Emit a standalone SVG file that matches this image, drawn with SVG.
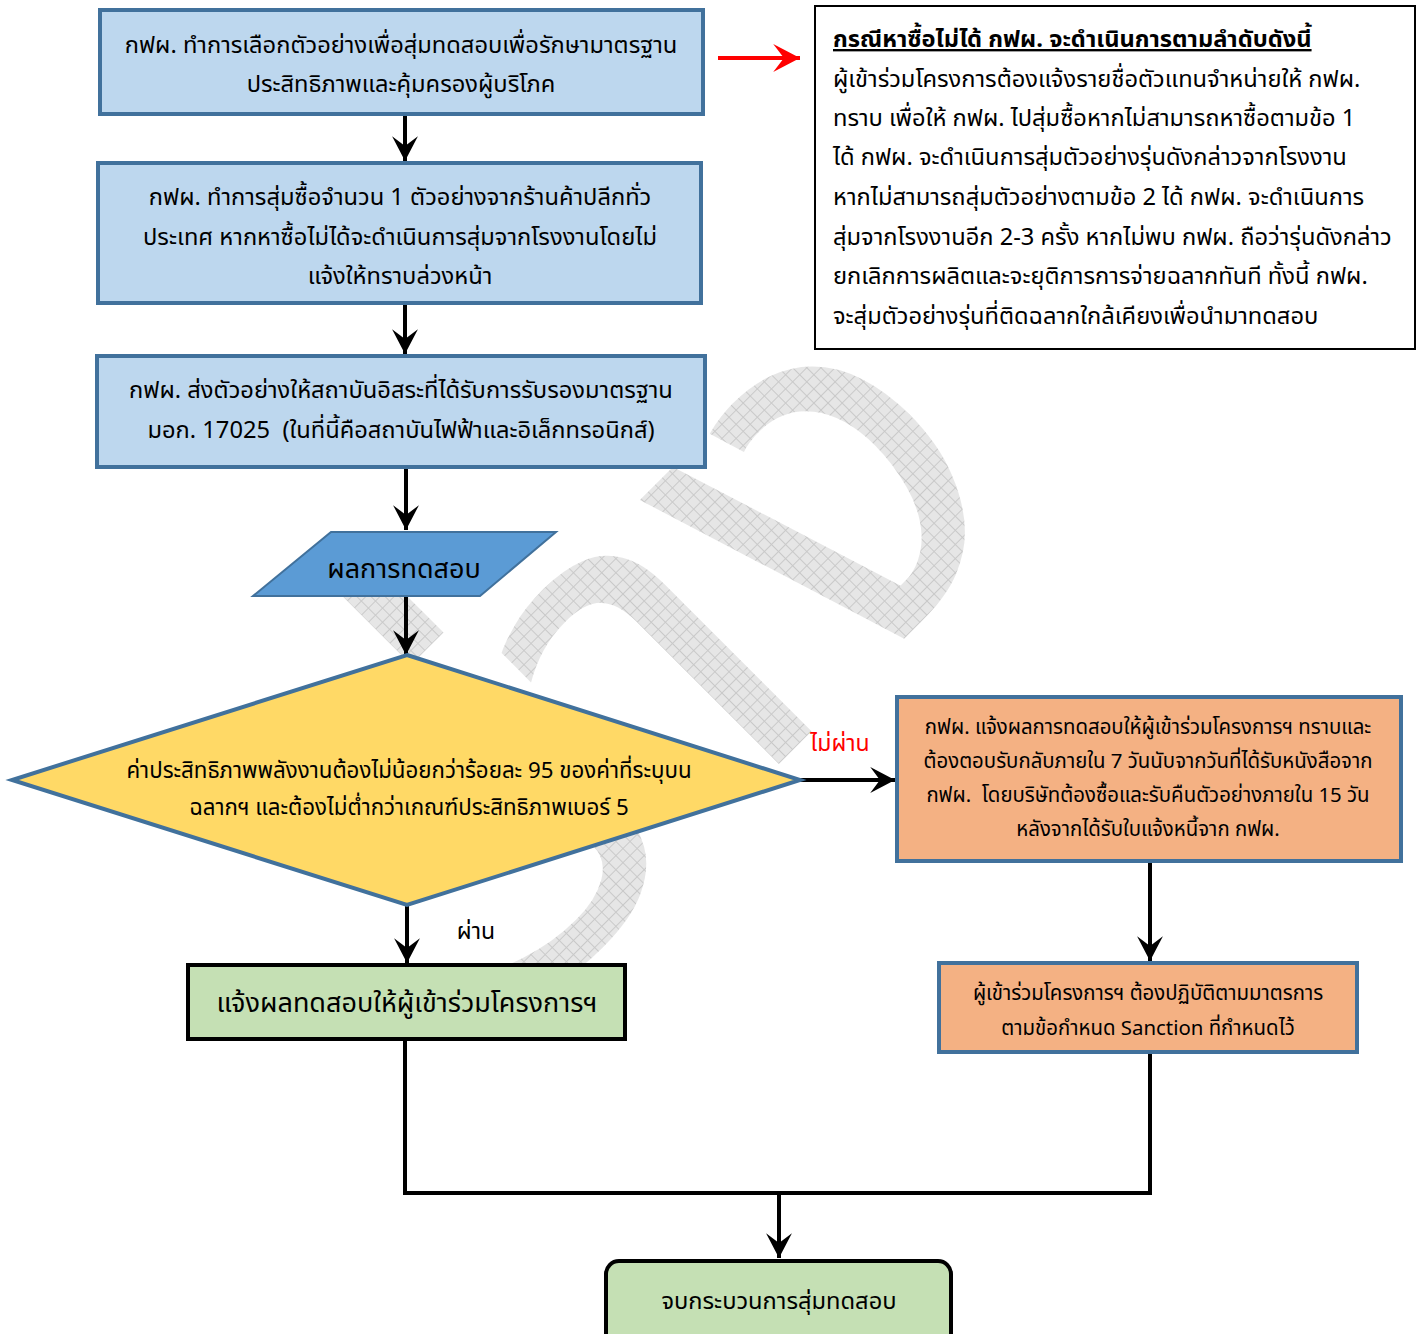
<svg xmlns="http://www.w3.org/2000/svg" width="1418" height="1334" viewBox="0 0 1418 1334">
<defs>
<style>
text{font-family:"Noto Sans Thai","Leelawadee UI",Tahoma,"DejaVu Sans","Noto Sans",sans-serif;fill:#000;white-space:pre}
.c{text-anchor:middle}
.t22{font-size:23.7px}
.td{font-size:22.3px}
.t19{font-size:20.4px}
.t26{font-size:27px}
.blue{fill:#BDD7EE;stroke:#41719C;stroke-width:4}
.orange{fill:#F4B183;stroke:#41719C;stroke-width:4}
.green{fill:#C5E0B4;stroke:#000;stroke-width:4}
.con{fill:none;stroke:#000;stroke-width:4}
</style>
<pattern id="hatch" width="10" height="10" patternUnits="userSpaceOnUse">
<rect width="10" height="10" fill="#E4E4E4"/>
<path d="M0,0.5H10M0.5,0V10" stroke="#C4C4C4" stroke-width="1"/>
</pattern>
<marker id="ah" markerUnits="userSpaceOnUse" markerWidth="28" markerHeight="28" viewBox="-24 -13 26 26" refX="0" refY="0" orient="auto">
<path d="M0,0 L-23,-12 L-14,0 L-23,12 Z" fill="#000"/>
</marker>
<marker id="ahr" markerUnits="userSpaceOnUse" markerWidth="30" markerHeight="30" viewBox="-26 -14 28 28" refX="0" refY="0" orient="auto">
<path d="M0,0 L-25,-13 L-15,0 L-25,13 Z" fill="#FF0000"/>
</marker>
</defs>
<rect width="1418" height="1334" fill="#fff"/>
<g id="watermark" opacity="0.9">
<text transform="rotate(-45)" x="-366" y="1091" style="font-size:520px;fill:url(#hatch)">ร่าง</text>
</g>
<g id="connectors">
<line class="con" x1="405" y1="114" x2="405" y2="161" marker-end="url(#ah)"/>
<line class="con" x1="405" y1="303" x2="405" y2="354" marker-end="url(#ah)"/>
<line class="con" x1="406" y1="467" x2="406" y2="530" marker-end="url(#ah)"/>
<line class="con" x1="406" y1="595" x2="406" y2="655" marker-end="url(#ah)"/>
<line class="con" x1="407" y1="905" x2="407" y2="963" marker-end="url(#ah)"/>
<line class="con" x1="800" y1="780" x2="895" y2="780" marker-end="url(#ah)"/>
<line class="con" x1="1150" y1="861" x2="1150" y2="961" marker-end="url(#ah)"/>
<polyline class="con" points="405,1039 405,1193 1150,1193 1150,1052"/>
<line class="con" x1="779" y1="1193" x2="779" y2="1258" marker-end="url(#ah)"/>
<line x1="718" y1="58" x2="800" y2="58" stroke="#FF0000" stroke-width="4" marker-end="url(#ahr)"/>
<text x="840" y="751" class="c" style="font-size:23px;fill:#FF0000">ไม่ผ่าน</text>
<text x="476" y="939" class="c" style="font-size:23px">ผ่าน</text>
</g>
<g id="n1">
<rect class="blue" x="100" y="10" width="603" height="104"/>
<text class="c t22" x="401" y="53">กฟผ. ทำการเลือกตัวอย่างเพื่อสุ่มทดสอบเพื่อรักษามาตรฐาน</text>
<text class="c t22" x="401" y="92">ประสิทธิภาพและคุ้มครองผู้บริโภค</text>
</g>
<g id="n2">
<rect class="blue" x="98" y="163" width="603" height="140"/>
<text class="c t22" x="400" y="205">กฟผ. ทำการสุ่มซื้อจำนวน 1 ตัวอย่างจากร้านค้าปลีกทั่ว</text>
<text class="c t22" x="400" y="245">ประเทศ หากหาซื้อไม่ได้จะดำเนินการสุ่มจากโรงงานโดยไม่</text>
<text class="c t22" x="400" y="284">แจ้งให้ทราบล่วงหน้า</text>
</g>
<g id="n3">
<rect class="blue" x="97" y="356" width="608" height="111"/>
<text class="c t22" x="401" y="398">กฟผ. ส่งตัวอย่างให้สถาบันอิสระที่ได้รับการรับรองมาตรฐาน</text>
<text class="c t22" x="401" y="438">มอก. 17025  (ในที่นี้คือสถาบันไฟฟ้าและอิเล็กทรอนิกส์)</text>
</g>
<g id="n4">
<polygon points="331,532 556,532 480,596 253,596" fill="#5B9BD5" stroke="#41719C" stroke-width="2"/>
<text class="c t26" x="404" y="578">ผลการทดสอบ</text>
</g>
<g id="n5">
<polygon points="407,655 800,780 407,905 12,780" fill="#FFD966" stroke="#41719C" stroke-width="4"/>
<text class="c td" x="409" y="778">ค่าประสิทธิภาพพลังงานต้องไม่น้อยกว่าร้อยละ 95 ของค่าที่ระบุบน</text>
<text class="c td" x="409" y="815">ฉลากฯ และต้องไม่ต่ำกว่าเกณฑ์ประสิทธิภาพเบอร์ 5</text>
</g>
<g id="n6">
<rect class="orange" x="897" y="697" width="504" height="164"/>
<text class="c t19" x="1148" y="734">กฟผ. แจ้งผลการทดสอบให้ผู้เข้าร่วมโครงการฯ ทราบและ</text>
<text class="c t19" x="1148" y="768">ต้องตอบรับกลับภายใน 7 วันนับจากวันที่ได้รับหนังสือจาก</text>
<text class="c t19" x="1148" y="802">กฟผ.  โดยบริษัทต้องซื้อและรับคืนตัวอย่างภายใน 15 วัน</text>
<text class="c t19" x="1148" y="836">หลังจากได้รับใบแจ้งหนี้จาก กฟผ.</text>
</g>
<g id="n7">
<rect class="orange" x="939" y="963" width="418" height="89"/>
<text class="c t19" x="1148" y="1000">ผู้เข้าร่วมโครงการฯ ต้องปฏิบัติตามมาตรการ</text>
<text class="c t19" x="1148" y="1035">ตามข้อกำหนด Sanction ที่กำหนดไว้</text>
</g>
<g id="n8">
<rect class="green" x="188" y="965" width="437" height="74"/>
<text class="c t26" x="407" y="1012">แจ้งผลทดสอบให้ผู้เข้าร่วมโครงการฯ</text>
</g>
<g id="n9">
<rect class="green" x="606" y="1261" width="345" height="90" rx="13" ry="13"/>
<text class="c t22" x="779" y="1309">จบกระบวนการสุ่มทดสอบ</text>
</g>
<g id="n10">
<rect x="815" y="6" width="600" height="343" fill="#fff" stroke="#000" stroke-width="2"/>
<text class="t22" x="833" y="47" style="font-weight:bold;text-decoration:underline">กรณีหาซื้อไม่ได้ กฟผ. จะดำเนินการตามลำดับดังนี้</text>
<text class="t22" x="833" y="87">ผู้เข้าร่วมโครงการต้องแจ้งรายชื่อตัวแทนจำหน่ายให้ กฟผ.</text>
<text class="t22" x="833" y="126">ทราบ เพื่อให้ กฟผ. ไปสุ่มซื้อหากไม่สามารถหาซื้อตามข้อ 1</text>
<text class="t22" x="833" y="165">ได้ กฟผ. จะดำเนินการสุ่มตัวอย่างรุ่นดังกล่าวจากโรงงาน</text>
<text class="t22" x="833" y="205">หากไม่สามารถสุ่มตัวอย่างตามข้อ 2 ได้ กฟผ. จะดำเนินการ</text>
<text class="t22" x="833" y="245">สุ่มจากโรงงานอีก 2-3 ครั้ง หากไม่พบ กฟผ. ถือว่ารุ่นดังกล่าว</text>
<text class="t22" x="833" y="284">ยกเลิกการผลิตและจะยุติการการจ่ายฉลากทันที ทั้งนี้ กฟผ.</text>
<text class="t22" x="833" y="324">จะสุ่มตัวอย่างรุ่นที่ติดฉลากใกล้เคียงเพื่อนำมาทดสอบ</text>
</g>
</svg>
